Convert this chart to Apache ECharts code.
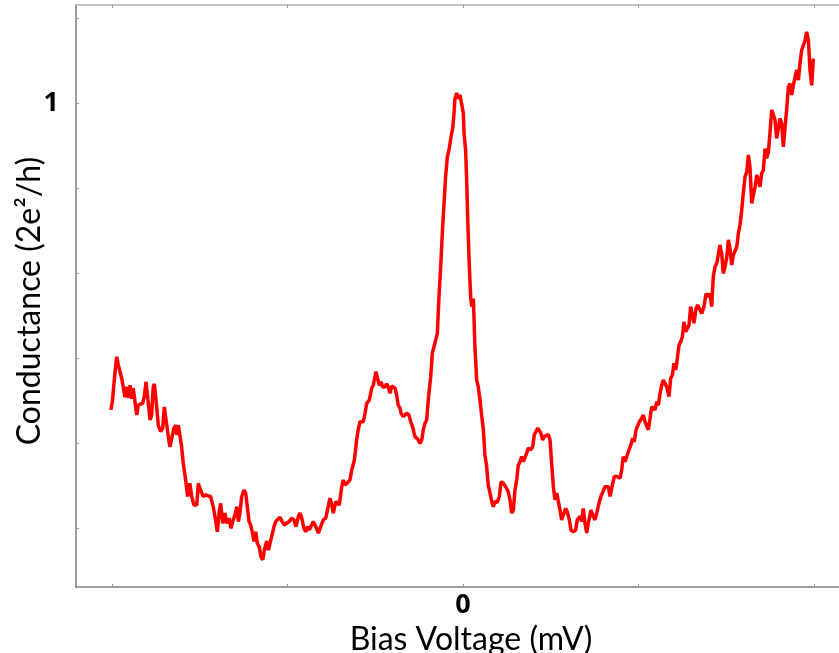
<!DOCTYPE html>
<html>
<head>
<meta charset="utf-8">
<script src="https://cdn.jsdelivr.net/npm/echarts@6/dist/echarts.min.js"></script>
<style>html,body{margin:0;padding:0;background:#fff}#c{width:839px;height:653px}</style>
</head>
<body>
<div id="c"></div>
<script>
// Bias voltage (mV) and conductance (2e^2/h)
var biasVoltage = [
-2.006,-1.998,-1.993,-1.983,-1.973,-1.964,-1.954,-1.945,-1.936,-1.926,-1.916,-1.907,-1.897,-1.888,-1.879,-1.869,-1.859,-1.850,-1.840,-1.825,
-1.816,-1.806,-1.797,-1.783,-1.774,-1.765,-1.759,-1.749,-1.736,-1.723,-1.711,-1.702,-1.692,-1.679,-1.670,-1.660,-1.647,-1.637,-1.631,-1.622,
-1.613,-1.603,-1.594,-1.580,-1.569,-1.556,-1.546,-1.533,-1.517,-1.508,-1.499,-1.489,-1.480,-1.464,-1.451,-1.438,-1.423,-1.413,-1.400,-1.389,
-1.381,-1.369,-1.360,-1.356,-1.346,-1.333,-1.322,-1.309,-1.299,-1.289,-1.280,-1.271,-1.261,-1.248,-1.238,-1.229,-1.219,-1.210,-1.201,-1.191,
-1.181,-1.172,-1.161,-1.151,-1.141,-1.132,-1.119,-1.109,-1.100,-1.090,-1.077,-1.067,-1.056,-1.043,-1.030,-1.018,-1.005,-0.991,-0.976,-0.963,
-0.952,-0.938,-0.929,-0.919,-0.906,-0.896,-0.885,-0.876,-0.866,-0.853,-0.839,-0.824,-0.811,-0.796,-0.782,-0.768,-0.758,-0.748,-0.739,-0.725,
-0.716,-0.705,-0.691,-0.682,-0.672,-0.657,-0.644,-0.634,-0.619,-0.615,-0.606,-0.597,-0.587,-0.568,-0.558,-0.549,-0.534,-0.520,-0.511,-0.496,
-0.488,-0.477,-0.467,-0.458,-0.444,-0.435,-0.426,-0.416,-0.406,-0.397,-0.387,-0.378,-0.369,-0.359,-0.353,-0.340,-0.330,-0.321,-0.308,-0.298,
-0.287,-0.274,-0.258,-0.245,-0.235,-0.226,-0.217,-0.207,-0.198,-0.184,-0.175,-0.165,-0.154,-0.146,-0.137,-0.127,-0.118,-0.108,-0.099,-0.089,
-0.080,-0.068,-0.059,-0.051,-0.046,-0.036,-0.027,-0.017,-0.007,0.002,0.006,0.015,0.021,0.027,0.034,0.044,0.050,0.059,0.068,0.078,
0.087,0.097,0.107,0.116,0.125,0.135,0.144,0.154,0.164,0.173,0.182,0.195,0.207,0.217,0.230,0.243,0.258,0.268,0.277,0.287,
0.296,0.306,0.315,0.325,0.334,0.344,0.353,0.363,0.372,0.386,0.397,0.406,0.416,0.426,0.435,0.444,0.454,0.463,0.473,0.486,
0.496,0.505,0.515,0.524,0.534,0.543,0.553,0.562,0.572,0.585,0.594,0.606,0.615,0.628,0.642,0.651,0.661,0.667,0.676,0.685,
0.695,0.705,0.714,0.729,0.742,0.752,0.762,0.777,0.786,0.796,0.809,0.819,0.828,0.838,0.851,0.862,0.879,0.895,0.904,0.913,
0.923,0.933,0.946,0.956,0.967,0.976,0.986,0.995,1.005,1.018,1.027,1.037,1.047,1.056,1.066,1.075,1.084,1.094,1.104,1.113,
1.123,1.132,1.141,1.151,1.161,1.174,1.183,1.193,1.202,1.212,1.221,1.231,1.240,1.250,1.259,1.269,1.278,1.288,1.297,1.307,
1.316,1.328,1.337,1.346,1.360,1.373,1.385,1.398,1.407,1.417,1.426,1.436,1.446,1.455,1.464,1.474,1.483,1.493,1.503,1.512,
1.521,1.531,1.540,1.550,1.560,1.569,1.578,1.588,1.597,1.607,1.617,1.626,1.635,1.645,1.654,1.664,1.674,1.683,1.692,1.702,
1.711,1.721,1.730,1.740,1.749,1.759,1.768,1.778,1.787,1.797,1.806,1.816,1.825,1.835,1.844,1.854,1.863,1.873,1.882,1.892,
1.901,1.911,1.920,1.930,1.939,1.949,1.958,1.968,1.977,1.987,1.996
];
var conductance = [
0.278,0.297,0.294,0.365,0.403,0.384,0.384,0.353,0.353,0.308,0.332,0.306,0.336,0.304,0.329,0.325,0.266,0.289,0.285,0.294,
0.309,0.344,0.309,0.254,0.266,0.332,0.339,0.301,0.242,0.227,0.235,0.285,0.285,0.215,0.191,0.193,0.235,0.242,0.219,0.242,
0.242,0.191,0.152,0.113,0.074,0.105,0.074,0.054,0.054,0.105,0.093,0.093,0.074,0.078,0.075,0.074,0.050,0.027,-0.009,0.038,
0.058,0.011,0.027,0.035,0.011,0.023,-0.001,0.019,0.031,0.050,0.015,0.035,0.074,0.089,0.082,0.050,0.015,0.007,-0.009,-0.032,
-0.009,-0.036,-0.044,-0.068,-0.075,-0.052,-0.031,-0.052,-0.056,-0.020,0.003,0.015,0.011,0.025,0.015,0.007,0.011,0.015,0.023,0.019,
0.003,0.027,0.035,0.023,-0.001,-0.009,0.003,-0.005,-0.001,0.015,0.003,-0.012,0.003,0.019,0.023,0.050,0.070,0.054,0.035,0.062,
0.066,0.054,0.097,0.113,0.101,0.107,0.113,0.136,0.160,0.164,0.207,0.231,0.250,0.250,0.270,0.293,0.301,0.329,0.336,0.368,
0.364,0.336,0.344,0.332,0.332,0.339,0.332,0.317,0.334,0.336,0.329,0.313,0.289,0.282,0.270,0.262,0.258,0.270,0.266,0.250,
0.238,0.215,0.209,0.199,0.207,0.231,0.246,0.254,0.301,0.356,0.411,0.427,0.431,0.458,0.544,0.615,0.693,0.764,0.827,0.874,
0.889,0.921,0.940,0.976,1.011,1.024,1.011,1.019,1.015,0.976,0.929,0.889,0.819,0.725,0.638,0.540,0.521,0.540,0.427,0.348,
0.332,0.301,0.262,0.231,0.172,0.144,0.101,0.082,0.062,0.050,0.062,0.060,0.074,0.109,0.105,0.097,0.085,0.066,0.035,0.042,
0.089,0.113,0.148,0.156,0.168,0.156,0.160,0.176,0.188,0.184,0.191,0.219,0.227,0.235,0.238,0.223,0.207,0.215,0.211,0.220,
0.207,0.152,0.097,0.066,0.082,0.082,0.042,0.019,0.031,0.046,0.038,0.019,-0.005,-0.009,-0.005,0.019,0.015,0.027,0.015,0.046,
0.011,-0.012,0.011,0.042,0.027,0.019,0.035,0.062,0.074,0.070,0.097,0.093,0.097,0.074,0.101,0.121,0.121,0.117,0.136,0.168,
0.156,0.168,0.184,0.195,0.211,0.203,0.231,0.231,0.250,0.258,0.266,0.250,0.254,0.231,0.258,0.285,0.289,0.278,0.297,0.289,
0.317,0.336,0.348,0.344,0.332,0.309,0.352,0.360,0.388,0.372,0.399,0.431,0.438,0.450,0.485,0.462,0.466,0.478,0.521,0.525,
0.482,0.517,0.525,0.521,0.505,0.521,0.552,0.544,0.552,0.521,0.591,0.615,0.623,0.627,0.666,0.646,0.599,0.615,0.638,0.678,
0.658,0.619,0.642,0.638,0.662,0.693,0.713,0.748,0.788,0.827,0.838,0.878,0.850,0.764,0.764,0.803,0.831,0.835,0.803,0.835,
0.842,0.893,0.870,0.885,0.929,0.984,0.988,0.960,0.917,0.913,0.964,0.952,0.897,0.897,0.984,1.038,1.046,1.019,1.042,1.046,
1.078,1.054,1.093,1.125,1.136,1.148,1.168,1.148,1.078,1.042,1.105
];
var xTicks = [-2, -1, 0, 1, 2];
var xLabels = [0];
var yTicks = [0, 0.2, 0.4, 0.6, 0.8, 1, 1.2];
var yLabels = [1];

var seriesData = biasVoltage.map(function (v, i) { return [v, conductance[i]]; });

var chart = echarts.init(document.getElementById('c'), null, {renderer: 'canvas'});
var font = 'Lato, "Liberation Sans", sans-serif';
var boldFont = '"Open Sans", "Liberation Sans", sans-serif';
chart.setOption({
  animation: false,
  backgroundColor: '#ffffff',
  grid: {left: 76, top: 5, width: 774, height: 582, containLabel: false, outerBoundsMode: 'none'},
  xAxis: [{
    type: 'value', position: 'bottom', min: -2.205, max: 2.205,
    name: 'Bias Voltage (mV)', nameLocation: 'middle', nameGap: 37, nameMoveOverlap: false,
    nameTextStyle: {fontFamily: font, fontSize: 32, color: '#000', padding: [0, 0, 0, 16]},
    axisLine: {show: true, onZero: false, lineStyle: {color: '#7f7f7f', width: 1.5}},
    axisTick: {show: true, inside: true, length: 3, customValues: xTicks, lineStyle: {color: '#999'}},
    axisLabel: {show: true, customValues: xLabels, margin: 5, fontFamily: boldFont, fontWeight: 700, fontSize: 27, color: '#000'},
    splitLine: {show: false}
  }, {
    type: 'value', position: 'top', min: -2.205, max: 2.205,
    axisLine: {show: true, onZero: false, lineStyle: {color: '#b0b0b0', width: 1.5}},
    axisTick: {show: true, inside: true, length: 3, customValues: xTicks, lineStyle: {color: '#999'}},
    axisLabel: {show: false},
    splitLine: {show: false}
  }],
  yAxis: [{
    type: 'value', position: 'left', min: -0.139, max: 1.231,
    name: 'Conductance (2e\u00B2/h)', nameLocation: 'middle', nameGap: 30, nameMoveOverlap: false,
    nameTextStyle: {fontFamily: font, fontSize: 32, color: '#000', padding: [0, 10, 0, 0]},
    axisLine: {show: true, onZero: false, lineStyle: {color: '#7f7f7f', width: 1.5}},
    axisTick: {show: true, inside: true, length: 3, customValues: yTicks, lineStyle: {color: '#999'}},
    axisLabel: {show: true, customValues: yLabels, margin: 17, fontFamily: boldFont, fontWeight: 700, fontSize: 27, color: '#000'},
    splitLine: {show: false}
  }],
  series: [{
    type: 'line', xAxisIndex: 0, yAxisIndex: 0,
    data: seriesData, showSymbol: false, symbol: 'none',
    lineStyle: {color: '#ff0000', width: 3.5},
    clip: false
  }]
});
</script>
</body>
</html>
